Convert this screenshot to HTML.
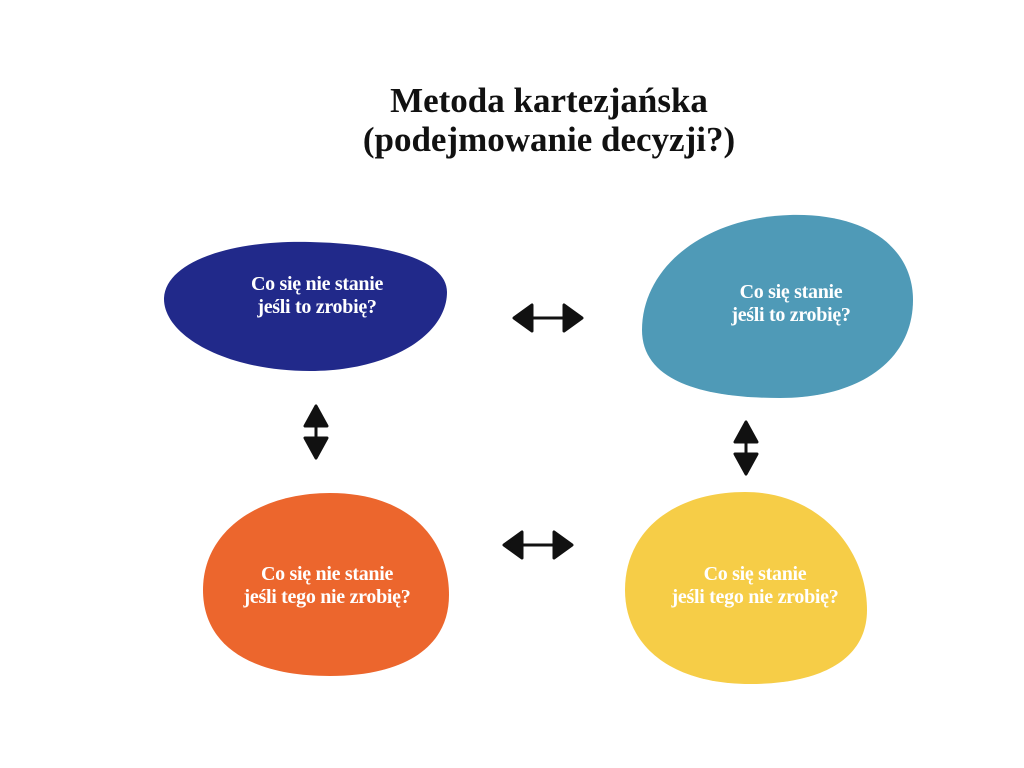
<!DOCTYPE html>
<html><head><meta charset="utf-8"><style>
html,body{margin:0;padding:0;background:#fff;}
svg{display:block}
</style></head><body>
<svg width="1024" height="768" viewBox="0 0 1024 768" xmlns="http://www.w3.org/2000/svg">
<text x="549" y="112" text-anchor="middle" font-family="Liberation Serif, serif" font-weight="bold" font-size="35" fill="#111">Metoda kartezjańska</text>
<text x="549" y="151" text-anchor="middle" font-family="Liberation Serif, serif" font-weight="bold" font-size="35" fill="#111">(podejmowanie decyzji?)</text>

<path d="M164,298 C166,262 230,240 310,242 C395,244 447,262 447,292 C447,335 390,371 310,371 C225,371 163,335 164,298 Z" fill="#21298a"/>
<path d="M642,330 C642,270 700,218 790,215 C870,213 913,250 913,300 C913,360 860,398 780,398 C700,398 642,380 642,330 Z" fill="#4f9ab7"/>
<path d="M203,590 C203,530 260,493 330,493 C410,493 449,540 449,595 C449,650 400,676 330,676 C250,676 203,645 203,590 Z" fill="#ec662d"/>
<path d="M625,590 C625,530 675,492 745,492 C820,492 867,550 867,610 C867,660 820,684 750,684 C670,684 625,645 625,590 Z" fill="#f6cd47"/>

<g font-family="Liberation Serif, serif" font-weight="bold" font-size="20" fill="#fff" text-anchor="middle" letter-spacing="-0.3">
<text x="317" y="290">Co się nie stanie</text>
<text x="317" y="313">jeśli to zrobię?</text>
<text x="791" y="298">Co się stanie</text>
<text x="791" y="321">jeśli to zrobię?</text>
<text x="327" y="580">Co się nie stanie</text>
<text x="327" y="603">jeśli tego nie zrobię?</text>
<text x="755" y="580">Co się stanie</text>
<text x="755" y="603">jeśli tego nie zrobię?</text>
</g>

<g fill="#111" stroke="#111" stroke-width="3" stroke-linejoin="round">
<polygon points="514,318 532,305 532,331"/><polygon points="582,318 564,305 564,331"/>
<line x1="530" y1="318" x2="566" y2="318"/>
<polygon points="504,545 522,532 522,558"/><polygon points="572,545 554,532 554,558"/>
<line x1="520" y1="545" x2="556" y2="545"/>
<polygon points="316,406 305,426 327,426"/><polygon points="316,458 305,438 327,438"/>
<line x1="316" y1="424" x2="316" y2="440"/>
<polygon points="746,422 735,442 757,442"/><polygon points="746,474 735,454 757,454"/>
<line x1="746" y1="440" x2="746" y2="456"/>
</g>
</svg>
</body></html>
